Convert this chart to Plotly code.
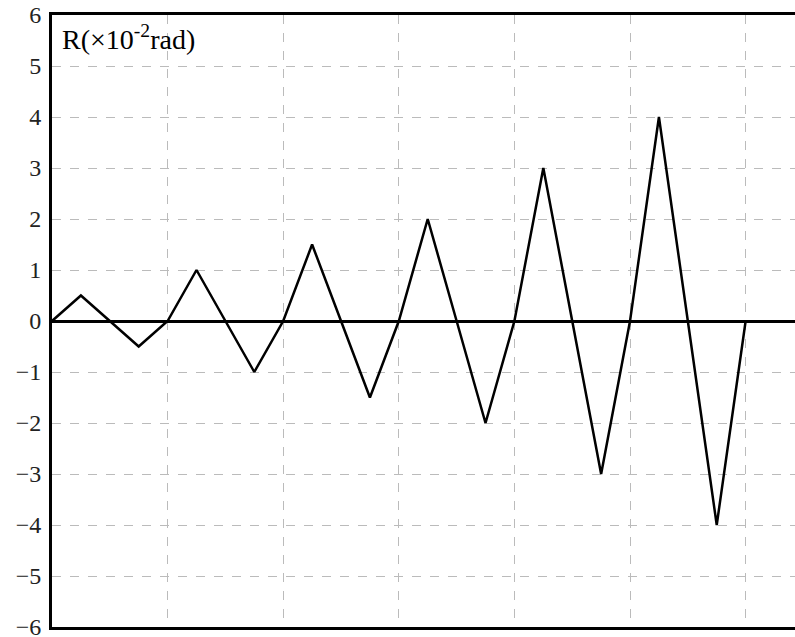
import plotly.graph_objects as go

x_vals = [i * 0.25 for i in range(25)]
r_vals = [0, 0.5, 0, -0.5, 0, 1, 0, -1, 0, 1.5, 0, -1.5, 0, 2, 0, -2, 0, 3, 0, -3, 0, 4, 0, -4, 0]
y_ticks = [-6, -5, -4, -3, -2, -1, 0, 1, 2, 3, 4, 5, 6]
y_labels = ["−6", "−5", "−4", "−3", "−2", "−1", "0", "1", "2", "3", "4", "5", "6"]

SERIF = "Liberation Serif"

fig = go.Figure()
fig.add_trace(go.Scatter(x=x_vals, y=r_vals, mode="lines",
                         line=dict(color="black", width=2.5), showlegend=False))

fig.update_layout(
    width=795, height=637,
    margin=dict(l=52, r=0, t=15, b=10, autoexpand=False),
    plot_bgcolor="white", paper_bgcolor="white",
    font=dict(family=SERIF, size=22, color="#222"),
    xaxis=dict(range=[0, 6.427], dtick=1, tick0=0, showticklabels=False,
               showgrid=True, gridcolor="#bbbbbb", griddash="dash", gridwidth=1,
               showline=True, linecolor="black", linewidth=3, mirror=True,
               zeroline=False, ticks="", automargin=False),
    yaxis=dict(range=[-6, 6], tickvals=y_ticks, ticktext=y_labels, showgrid=True,
               gridcolor="#bbbbbb", griddash="dash", gridwidth=1, showline=True,
               linecolor="black", linewidth=3, zeroline=True, zerolinecolor="black",
               zerolinewidth=2.5, ticks="", ticklabelstandoff=3,
               ticklabeloverflow="allow", automargin=False,
               tickfont=dict(family=SERIF, size=24, color="#222")),
    annotations=[dict(text="R(×10<sup>-2</sup>rad)", xref="paper", yref="paper",
                      x=0.011, y=0.995, xanchor="left", yanchor="top", showarrow=False,
                      font=dict(family=SERIF, size=28, color="black"))],
)

fig.write_html("out.html")
